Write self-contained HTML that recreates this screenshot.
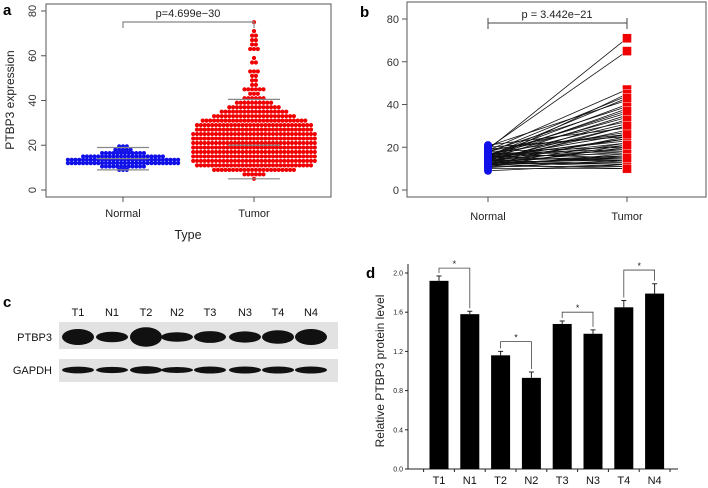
<!DOCTYPE html>
<html><head><meta charset="utf-8"><style>
body{margin:0;background:#fff}
svg{display:block;font-family:"Liberation Sans",Arial,sans-serif}
</style></head><body>
<svg id="fig" width="708" height="488" viewBox="0 0 708 488">
<g id="pa"></g>
<g id="pb"></g>
<g id="pc"></g>
<g id="pd"></g>
</svg>
<script>
// Panel a data: beeswarm rows [value, count]
const aTicks=[0,20,40,60,80];
const normalRowsVals=[9,10.5,12,13.5,15,16.5,18,19.5];
const normalRowsCnt=[3,12,30,30,22,12,5,3];
const tumorRowsVals=[5,7,9,11,13,15,17,19,21,23,25,27,29,31,33,35,37,39,41,43,45,47,49,51,53,57,59,63,65,67,69,71,75];
const tumorRowsCnt=[1,6,22,31,33,33,33,33,33,33,33,31,31,28,22,18,14,10,6,3,6,2,2,2,3,2,1,3,2,2,2,1,1];
const normalWhisk=[9,14,19];
const tumorWhisk=[5,20,40.5];
// Panel b data: paired values
const pairNormal=[9,10,10.5,11,11,11.5,12,12,12,12.5,12.5,13,13,13,13.5,13.5,14,14,14,14.5,14.5,15,15,15,15.5,15.5,16,16,16,16.5,16.5,17,17,17.5,18,18,18.5,19,19.5,20,20.5,21,12,13,14,15,16,17,18,13,14,15,16,11,12,19,16,14];
const pairTumor=[12,10,14,11,17,20,13,22,25,15,30,11,18,33,16,24,12,19,28,35,21,14,26,38,17,31,13,23,40,18,36,15,27,44,20,32,47,71,65,25,42,29,16,12,45,22,34,19,39,14,30,24,43,21,10,26,37,15];
const bTicks=[0,20,40,60,80];
// Panel d data
const dCats=["T1","N1","T2","N2","T3","N3","T4","N4"];
const dVals=[1.92,1.58,1.16,0.93,1.48,1.38,1.65,1.79];
const dErr=[0.05,0.03,0.04,0.06,0.03,0.04,0.07,0.10];
const dTicks=["0.0","0.4","0.8","1.2","1.6","2.0"];
const dBrackets=[[0,1,2.05],[2,3,1.30],[4,5,1.60],[6,7,2.03]];
// Panel c lanes
const cLanes=["T1","N1","T2","N2","T3","N3","T4","N4"];
const cPtbp3=[1.0,0.55,1.3,0.45,0.65,0.6,0.8,1.0];
const cGapdh=[0.8,0.7,0.95,0.65,0.85,0.85,0.85,0.85];

const NS="http://www.w3.org/2000/svg";
function mk(p,t,a,txt){const e=document.createElementNS(NS,t);for(const k in a)e.setAttribute(k,a[k]);if(txt!==undefined)e.textContent=txt;p.appendChild(e);return e;}

// ===== Panel a =====
(function(){
const g=document.getElementById('pa');
const ya=v=>190-v*(179/80);
const xN=123,xT=254;
let t=mk(g,'text',{x:3,y:15,'font-size':15,'font-weight':'bold'},'a');
let r=mk(g,'rect',{x:46,y:4,width:285,height:193,fill:'none',stroke:'#555','stroke-width':1});
mk(g,'line',{x1:46,y1:ya(0),x2:46,y2:ya(80),stroke:'#555'});
aTicks.forEach(v=>{mk(g,'line',{x1:41,x2:46,y1:ya(v),y2:ya(v),stroke:'#555'});
 let l=mk(g,'text',{x:33,y:ya(v),'font-size':11,fill:'#333','text-anchor':'middle',transform:`rotate(-90 33 ${ya(v)})`,'dominant-baseline':'middle'},String(v));});
let yt=mk(g,'text',{x:11,y:100,'font-size':12,fill:'#222','text-anchor':'middle',transform:'rotate(-90 11 100)','dominant-baseline':'middle'},'PTBP3 expression');
[[xN,'Normal'],[xT,'Tumor']].forEach(([x,s])=>{mk(g,'line',{x1:x,x2:x,y1:197,y2:202,stroke:'#555'});let l=mk(g,'text',{x:x,y:217,'font-size':11,fill:'#222','text-anchor':'middle'},s);});
let xt=mk(g,'text',{x:188,y:239,'font-size':12.5,fill:'#222','text-anchor':'middle'},'Type');
function swarm(vals,cnts,xc,col,name){vals.forEach((v,i)=>{const n=cnts[i];for(let k=0;k<n;k++){const off=(k-(n-1)/2)*3.8;const c=mk(g,'circle',{cx:xc+off,cy:ya(v),r:2.1,fill:col});}});}
swarm(normalRowsVals,normalRowsCnt,xN,'#1010e8','normal-point');
swarm(tumorRowsVals,tumorRowsCnt,xT,'#f00000','tumor-point');
function whisk(w,xc,hw){w.forEach(v=>{const l=mk(g,'line',{x1:xc-hw,x2:xc+hw,y1:ya(v),y2:ya(v),stroke:'#888','stroke-width':1.2});});}
whisk(normalWhisk,xN,26);whisk(tumorWhisk,xT,26);
mk(g,'path',{d:`M${xN} 28 V22 H${xT} V28`,fill:'none',stroke:'#888','stroke-width':1.2});
let p=mk(g,'text',{x:188,y:17,'font-size':11,fill:'#222','text-anchor':'middle'},'p=4.699e\u221230');
})();

// ===== Panel b =====
(function(){
const g=document.getElementById('pb');
const yb=v=>190-v*(171/80);
const xN=488,xT=627;
let t=mk(g,'text',{x:360,y:17,'font-size':15,'font-weight':'bold'},'b');
let r=mk(g,'rect',{x:407,y:2,width:299,height:195,fill:'none',stroke:'#555'});
bTicks.forEach(v=>{mk(g,'line',{x1:402,x2:407,y1:yb(v),y2:yb(v),stroke:'#555'});let l=mk(g,'text',{x:399,y:yb(v)+4,'font-size':11,fill:'#333','text-anchor':'end'},String(v));});
[[xN,'Normal'],[xT,'Tumor']].forEach(([x,s])=>{mk(g,'line',{x1:x,x2:x,y1:197,y2:202,stroke:'#555'});let l=mk(g,'text',{x:x,y:220,'font-size':11,fill:'#222','text-anchor':'middle'},s);});
pairNormal.forEach((n,i)=>{const l=mk(g,'line',{x1:xN,y1:yb(n),x2:xT,y2:yb(pairTumor[i]),stroke:'#111','stroke-width':0.8});});
pairNormal.forEach(n=>{const c=mk(g,'circle',{cx:xN,cy:yb(n),r:4,fill:'#1010e8'});});
pairTumor.forEach(v=>{const s=mk(g,'rect',{x:xT-4.5,y:yb(v)-4.5,width:9,height:9,fill:'#f00000',stroke:'#fff','stroke-width':0.4});});
mk(g,'path',{d:`M${xN} 29 V18 M${xN} 23 H${xT} M${xT} 18 V29`,fill:'none',stroke:'#444','stroke-width':1});
let p=mk(g,'text',{x:557,y:18,'font-size':11,fill:'#222','text-anchor':'middle'},'p = 3.442e\u221221');
})();

// ===== Panel c =====
(function(){
const g=document.getElementById('pc');
const lx=[78,112,146,177,210,245,278,311];
let t=mk(g,'text',{x:3,y:307,'font-size':15,'font-weight':'bold'},'c');
cLanes.forEach((s,i)=>{const l=mk(g,'text',{x:lx[i],y:316,'font-size':11,fill:'#111','text-anchor':'middle'},s);});
let a=mk(g,'text',{x:52,y:341,'font-size':11,fill:'#111','text-anchor':'end'},'PTBP3');
let b=mk(g,'text',{x:52,y:374,'font-size':11,fill:'#111','text-anchor':'end'},'GAPDH');
let r1=mk(g,'rect',{x:59,y:322,width:279,height:27,fill:'#e2e2e2'});
let r2=mk(g,'rect',{x:59,y:359,width:279,height:23,fill:'#e2e2e2'});
cPtbp3.forEach((v,i)=>{const e=mk(g,'ellipse',{cx:lx[i],cy:337,rx:16,ry:2+v*6,fill:'#111'});});
cGapdh.forEach((v,i)=>{const e=mk(g,'ellipse',{cx:lx[i],cy:370,rx:16,ry:1+v*3,fill:'#111'});});
})();

// ===== Panel d =====
(function(){
const g=document.getElementById('pd');
const yd=v=>469-v*98;
const xd=i=>439+i*30.8;
let t=mk(g,'text',{x:366,y:278,'font-size':15,'font-weight':'bold'},'d');
mk(g,'line',{x1:408,x2:408,y1:264,y2:469,stroke:'#222'});
mk(g,'line',{x1:408,x2:678,y1:469,y2:469,stroke:'#222'});
dTicks.forEach(s=>{const v=parseFloat(s);mk(g,'line',{x1:405,x2:408,y1:yd(v),y2:yd(v),stroke:'#222'});const l=mk(g,'text',{x:403,y:yd(v)+2.5,'font-size':7,fill:'#222','text-anchor':'end'},s);});
let yt=mk(g,'text',{x:384,y:371,'font-size':12,fill:'#222','text-anchor':'middle',transform:'rotate(-90 384 371)'},'Relative PTBP3 protein level');
dCats.forEach((c,i)=>{const x=xd(i),v=dVals[i],e=dErr[i];
 mk(g,'line',{x1:x-15.4,x2:x-15.4,y1:469,y2:472,stroke:'#222'});
 const br=mk(g,'rect',{x:x-9.5,y:yd(v),width:19,height:469-yd(v),fill:'#000'});
 mk(g,'path',{d:`M${x} ${yd(v)} V${yd(v+e)} M${x-2.5} ${yd(v+e)} H${x+2.5}`,stroke:'#222','stroke-width':1,fill:'none'});
 const l=mk(g,'text',{x:x,y:484,'font-size':11,fill:'#111','text-anchor':'middle'},c);});
mk(g,'line',{x1:xd(7)+15.4,x2:xd(7)+15.4,y1:469,y2:472,stroke:'#222'});
dBrackets.forEach(([a,b,h])=>{const xa=xd(a),xb=xd(b);const ta=yd(dVals[a]+dErr[a])-3,tb=yd(dVals[b]+dErr[b])-3;
 const p=mk(g,'path',{d:`M${xa} ${ta} V${yd(h)} H${xb} V${tb}`,fill:'none',stroke:'#444','stroke-width':0.8});
 const s=mk(g,'text',{x:(xa+xb)/2,y:yd(h)-1,'font-size':9,fill:'#222','text-anchor':'middle'},'*');});
})();
</script>
</body></html>
